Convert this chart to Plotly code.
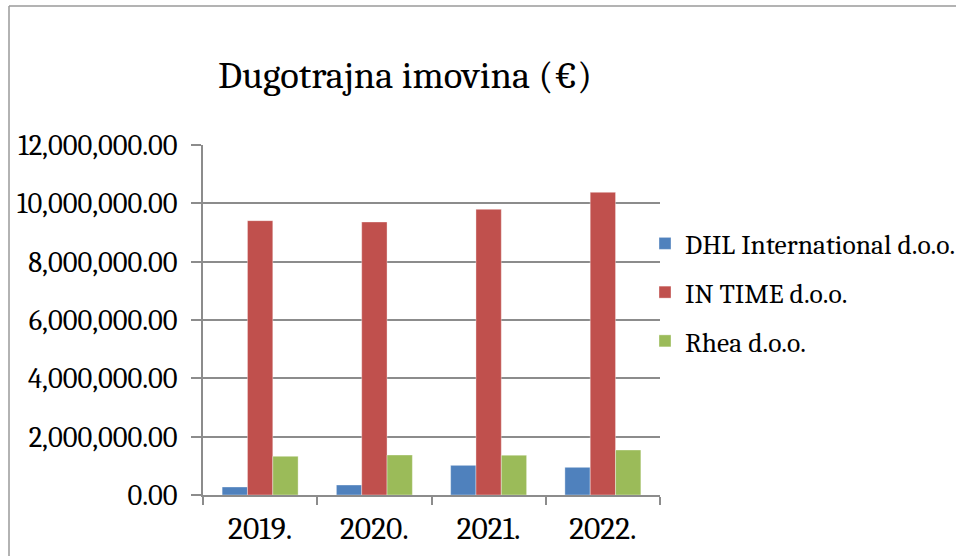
import plotly.graph_objects as go

categories = ["2019.", "2020.", "2021.", "2022."]
dhl = [275000, 343000, 1017000, 949000]
intime = [9406000, 9360000, 9794000, 10377000]
rhea = [1326000, 1371000, 1365000, 1543000]
series_names = ["DHL International d.o.o.", "IN TIME d.o.o.", "Rhea d.o.o."]
colors = ["#4F81BD", "#C0504D", "#9BBB59"]
y_ticks = [0, 2000000, 4000000, 6000000, 8000000, 10000000, 12000000]

W, H = 956, 556
L, R, T, B = 203, 660, 145, 495
font_family = "Cambria, Caladea, 'Liberation Serif', 'DejaVu Serif', serif"

fig = go.Figure()
for name, vals, col in zip(series_names, [dhl, intime, rhea], colors):
    fig.add_trace(go.Bar(
        x=categories, y=vals, name=name, legendgroup=name,
        marker=dict(color=col, line=dict(color="rgba(255,255,255,0.6)", width=0.6)),
    ))

def px_x(p):
    return (p - L) / (R - L)

def px_y(p):
    return (B - p) / (B - T)

grid = "#8C8C8C"
fig.update_layout(
    width=W, height=H,
    margin=dict(l=L, r=W - R, t=T, b=H - B, pad=0, autoexpand=False),
    paper_bgcolor="white", plot_bgcolor="white",
    barmode="group", bargap=0.335, bargroupgap=0,
    font=dict(family=font_family, size=28, color="black"),
    title=dict(text="Dugotrajna imovina (€)", xref="container", x=405 / W, xanchor="center",
               yref="container", y=1 - 75 / H, yanchor="middle",
               font=dict(family=font_family, size=38.5, color="black")),
    xaxis=dict(showline=True, linecolor=grid, linewidth=1.5, automargin=False,
               ticks="outside", tickson="boundaries", ticklen=8, tickcolor=grid, tickwidth=1.5,
               ticklabelstandoff=4, showgrid=False, tickfont=dict(size=31.5)),
    yaxis=dict(range=[0, 12000000], tickvals=y_ticks, tickformat=",.2f", automargin=False,
               showline=True, linecolor=grid, linewidth=1.5,
               ticks="outside", ticklen=10, tickcolor=grid, tickwidth=1.5,
               showgrid=True, gridcolor=grid, gridwidth=1.5,
               ticklabelstandoff=8, zeroline=False, tickfont=dict(size=28.5)),
    legend=dict(x=px_x(645), xanchor="left", y=px_y(219), yanchor="top",
                bgcolor="rgba(0,0,0,0)", font=dict(size=27.5),
                traceorder="grouped", tracegroupgap=10, itemclick=False),
    shapes=[
        dict(type="line", xref="paper", yref="paper", x0=px_x(9), x1=px_x(9),
             y0=px_y(6), y1=px_y(560), line=dict(color="#9A9A9A", width=1.5)),
        dict(type="line", xref="paper", yref="paper", x0=px_x(9), x1=px_x(960),
             y0=px_y(6), y1=px_y(6), line=dict(color="#9A9A9A", width=1.5)),
    ],
)

fig.write_html("out.html", config={"displayModeBar": False},
               post_script="document.body.style.margin='0';document.body.style.overflow='hidden';")
